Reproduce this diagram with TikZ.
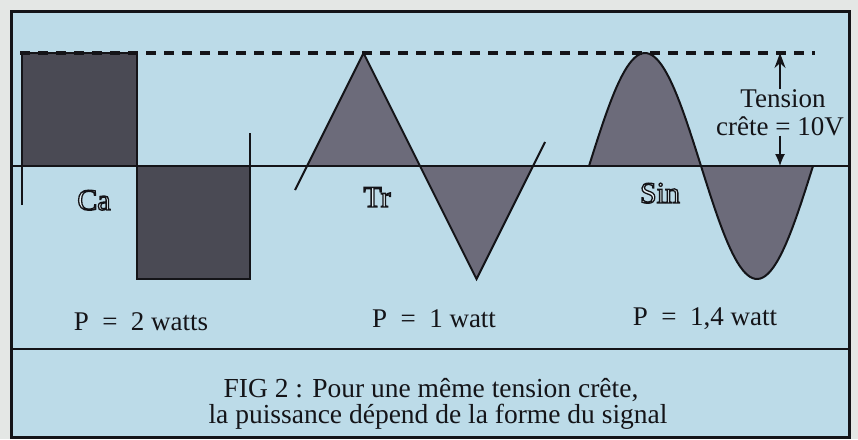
\documentclass[tikz,border=0pt]{standalone}
\usepackage{fontspec}
\setmainfont{Liberation Serif}
\usepackage{xcolor}
\usepackage{tikz}
\usetikzlibrary{arrows.meta,positioning}
\definecolor{paper}{HTML}{E4E7E5}
\definecolor{panel}{HTML}{BCDBE8}
\definecolor{ink}{HTML}{141418}
\definecolor{dark}{HTML}{4A4A54}
\definecolor{mid}{HTML}{6C6B7A}
\tikzset{
  every node/.style={font=\fontsize{27}{30}\selectfont,color=ink,inner sep=0pt},
  wave/.style={draw=ink,line width=2pt,line join=miter},
  axis/.style={draw=ink,line width=2pt},
  peakline/.style={draw=ink,line width=3.8pt,dash pattern=on 10pt off 8pt},
  sig/.style={anchor=base,font=\fontsize{30}{32}\selectfont},
  pw/.style={anchor=base},
  ar/.style={-{Stealth[length=15pt,width=11pt]},draw=ink,line width=1.6pt},
  tip/.style={-{Latex[length=12pt,width=10pt]},draw=ink,line width=1.2pt},
}
\newcommand{\outl}[1]{\textcolor{panel!40!white}{\special{pdf:literal direct 0.078 0.078 0.094 RG 1.3 w 2 Tr}#1\special{pdf:literal direct 0 Tr}}}

\begin{document}
\begin{tikzpicture}[x=1pt,y=-1pt]
\useasboundingbox[fill=paper] (0,0) rectangle (858,439);
\draw[fill=panel,draw=ink,line width=3pt] (11,11) rectangle (849,437);
\draw[draw=ink,line width=2.5pt] (11,349) -- (849,349);

\fill[dark] (22,53) rectangle (137,166);
\fill[dark] (137,166) rectangle (250,279);
\fill[mid] (307,166) -- (363.5,53) -- (420,166) -- (476.5,279) -- (533,166) -- cycle;
\fill[mid] (589,166) -- plot[domain=589:813,samples=90] (\x,{166-113*sin((\x-589)/224*360)}) -- cycle;

\draw[axis] (11,166) -- (849,166);
\draw[wave] (22,205) -- (22,53) -- (137,53) -- (137,279) -- (250,279) -- (250,133);
\draw[wave] (295,190) -- (363.5,53) -- (476.5,279) -- (545,142);
\draw[wave] plot[domain=589:813,samples=90] (\x,{166-113*sin((\x-589)/224*360)});
\draw[peakline] (20,53) -- (815,53);

\node[sig] (ca) at (94,210) {\outl{Ca}};
\node[sig] (tr) at (377,207) {\outl{Tr}};
\node[sig] (sin) at (660,203) {\outl{Sin}};

\node[pw] (pca) at (141,330) {P\enspace=\enspace2 watts};
\node[pw] (ptr) at (434,327) {P\enspace=\enspace1 watt};
\node[pw] (psin) at (705,325) {P\enspace=\enspace1,4 watt};

\coordinate (crest) at (780,53);
\coordinate (zero) at (780,166);
\node[pw] (tension) at (783,107) {Tension};
\node[pw] (crete) at (780,135) {crête = 10V};
\draw[ar] (tension.north -| crest) -- (crest);
\draw[tip] (crete.south -| zero) -- (zero);

\node[pw,font=\fontsize{27.5}{30}\selectfont] (cap1) at (431,397) {FIG 2 : Pour une même tension crête,};
\node[pw,font=\fontsize{27.5}{30}\selectfont] (cap2) at (438,423) {la puissance dépend de la forme du signal};
\end{tikzpicture}
\end{document}
